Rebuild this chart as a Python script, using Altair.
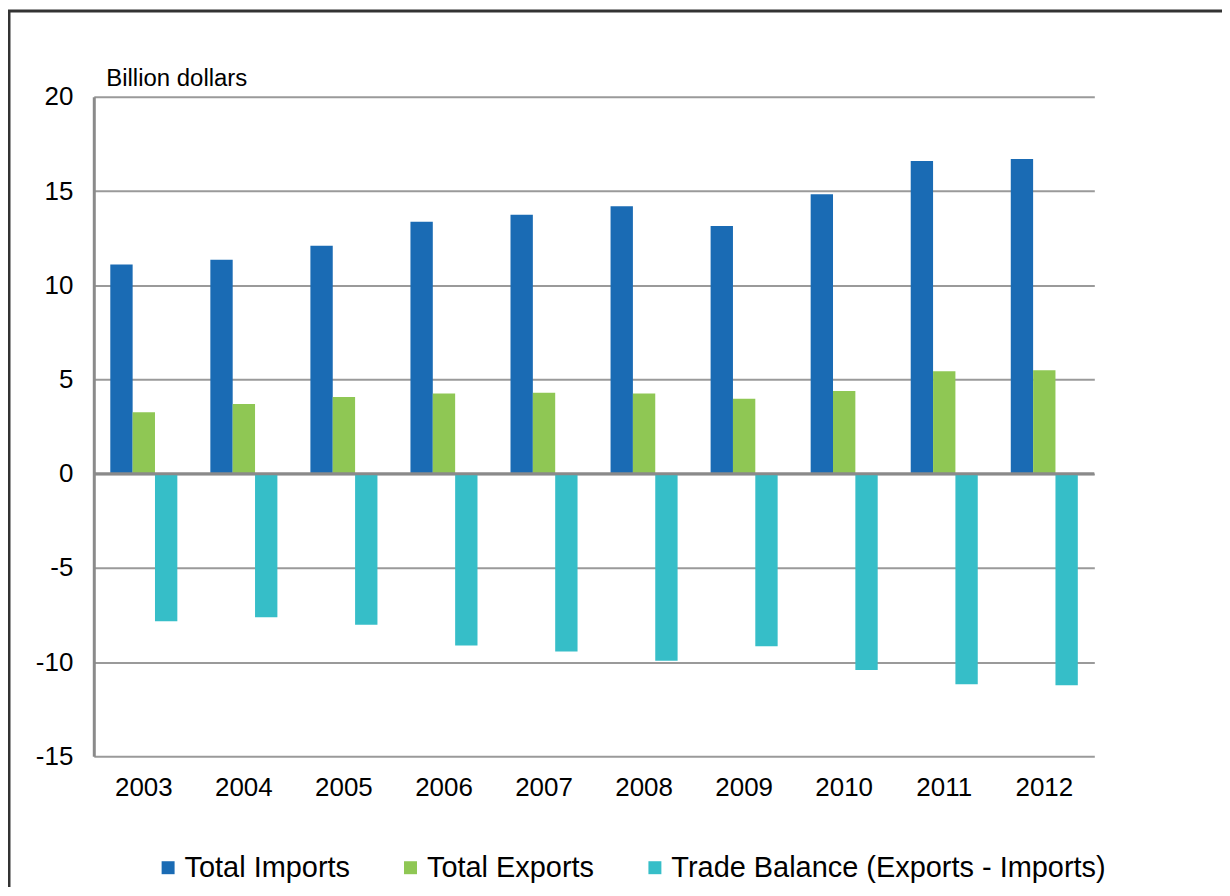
import altair as alt
import pandas as pd

years = ["2003", "2004", "2005", "2006", "2007", "2008", "2009", "2010", "2011", "2012"]
series_names = ["Total Imports", "Total Exports", "Trade Balance (Exports - Imports)"]
imports = [11.10, 11.36, 12.10, 13.37, 13.74, 14.20, 13.14, 14.83, 16.60, 16.70]
exports = [3.26, 3.70, 4.07, 4.25, 4.29, 4.25, 3.98, 4.39, 5.43, 5.49]
balance = [-7.83, -7.62, -8.02, -9.12, -9.44, -9.93, -9.16, -10.42, -11.18, -11.23]
colors = ["#1a6bb4", "#8fc754", "#36bec8"]
y_ticks = [-15, -10, -5, 0, 5, 10, 15, 20]

rows = []
for name, vals in zip(series_names, [imports, exports, balance]):
    for yr, v in zip(years, vals):
        rows.append({"Year": yr, "Series": name, "Value": v})
df = pd.DataFrame(rows)

FONT = "Liberation Sans"

bars = alt.Chart(df).mark_bar().encode(
    x=alt.X("Year:N", sort=years,
            scale=alt.Scale(paddingInner=0.33, paddingOuter=0.165),
            axis=alt.Axis(title=None, labelAngle=0, domain=False, ticks=False,
                          labelFontSize=26, labelFont=FONT, labelColor="#000000",
                          labelPadding=18, grid=False)),
    xOffset=alt.XOffset("Series:N", sort=series_names),
    y=alt.Y("Value:Q",
            scale=alt.Scale(domain=[-15, 20], nice=False, zero=False),
            axis=alt.Axis(values=y_ticks, title="Billion dollars", titleAngle=0,
                          titleAlign="left", titleBaseline="middle", titleX=12, titleY=-18,
                          titleFont=FONT, titleFontSize=24, titleFontWeight="normal",
                          titleColor="#000000",
                          labelExpr="'' + datum.value",
                          labelFont=FONT, labelFontSize=26, labelColor="#000000",
                          labelPadding=21, ticks=False, domain=True,
                          domainColor="#8a8a8a", domainWidth=3,
                          grid=True, gridColor="#9a9a9a", gridWidth=2)),
    color=alt.Color("Series:N", sort=series_names,
                    scale=alt.Scale(domain=series_names, range=colors),
                    legend=alt.Legend(title=None, orient="none", direction="horizontal",
                                      legendX=60, legendY=758, padding=0,
                                      symbolType="square", symbolSize=169,
                                      symbolStrokeWidth=0, symbolOpacity=1,
                                      labelFont=FONT, labelFontSize=29, labelLimit=0,
                                      labelColor="#000000", labelOffset=2,
                                      columnPadding=46)),
)

zero = alt.Chart(pd.DataFrame({"z": [0]})).mark_rule(color="#8a8a8a", strokeWidth=3).encode(
    y=alt.Y("z:Q")
)

frame_left = alt.Chart(pd.DataFrame({"a": [0]})).mark_rule(color="#333333", strokeWidth=3).encode(
    x=alt.value(-85), y=alt.value(-87), y2=alt.value(800)
)
frame_top = alt.Chart(pd.DataFrame({"a": [0]})).mark_rule(color="#333333", strokeWidth=3).encode(
    x=alt.value(-86), x2=alt.value(1140), y=alt.value(-86)
)

chart = alt.layer(bars, zero, frame_left, frame_top).properties(
    width=1003, height=661,
    autosize=alt.AutoSizeParams(type="none"),
    padding={"left": 86, "top": 88, "right": 128, "bottom": 130},
).configure_view(stroke=None)

chart.save("out.html", embed_options={"renderer": "svg", "actions": False})
